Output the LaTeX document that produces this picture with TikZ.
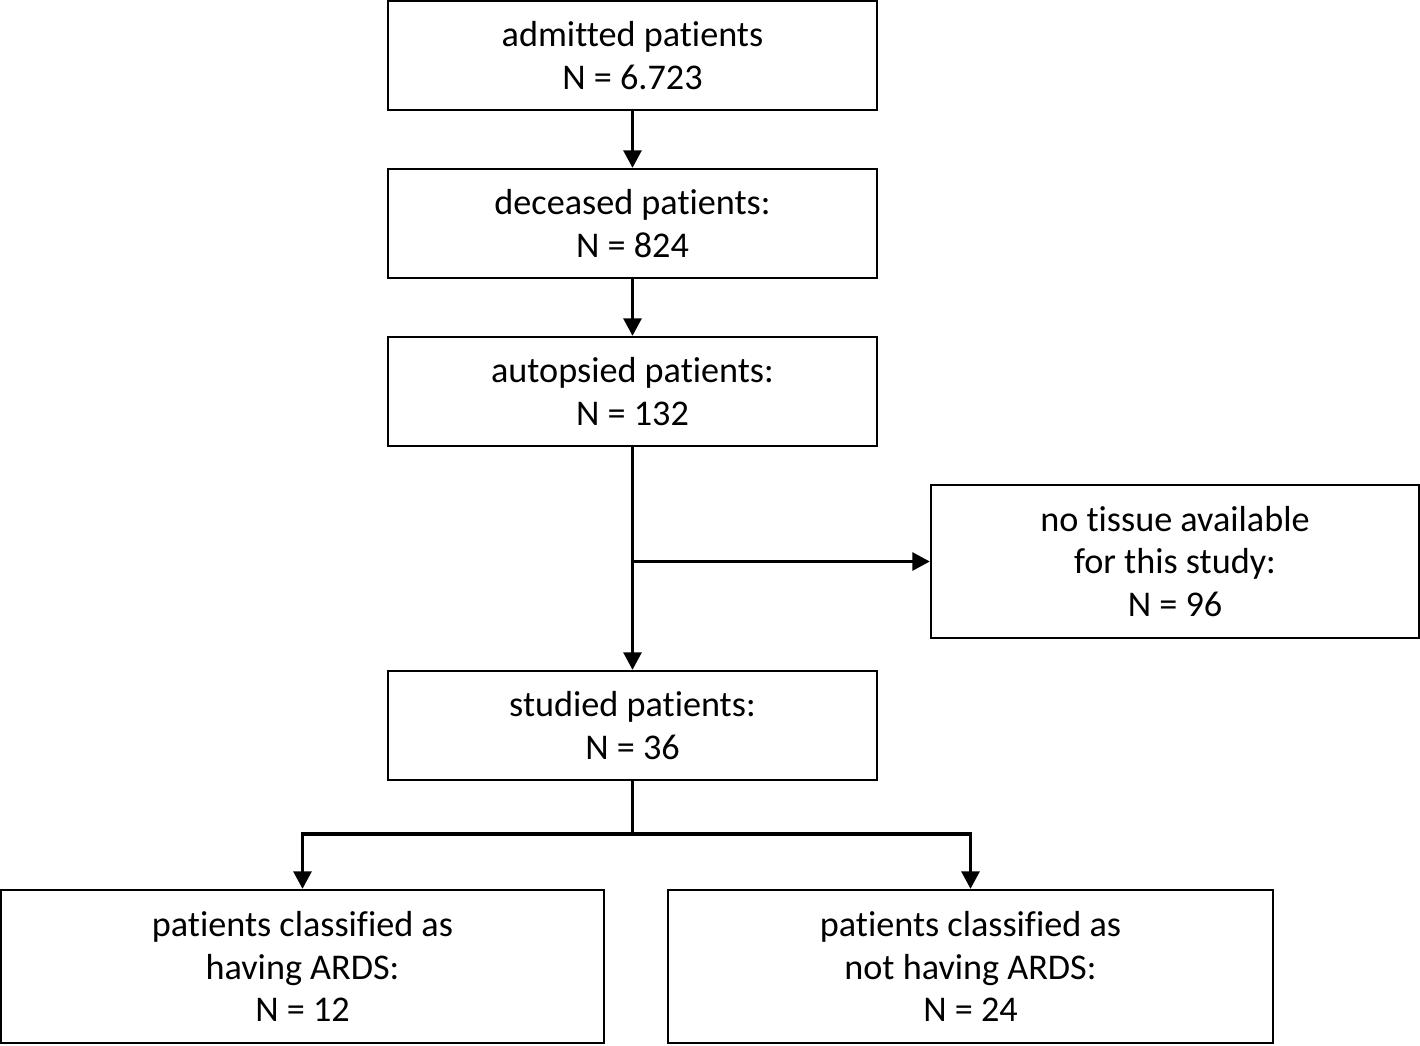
\documentclass[tikz,border=0pt]{standalone}
\usepackage{fontspec}
\setmainfont[Ligatures=NoCommon]{Carlito}
\usetikzlibrary{arrows.meta,calc}
\begin{document}
\begin{tikzpicture}[x=0.02cm,y=-0.02cm,
  box/.style={draw=black, line width=1.2pt, inner sep=0pt, align=center,
    font=\fontsize{20.6}{24}\selectfont},
  conn/.style={line width=2.2pt, -{Triangle[length=10pt,width=10pt]}},
  plain/.style={line width=2.2pt}]
\useasboundingbox (0,0) rectangle (1420,1045);
\node[box, minimum width=489*0.02cm, minimum height=109*0.02cm] (b1) at (632.5,55.5) {admitted patients\\N = 6.723};
\node[box, minimum width=489*0.02cm, minimum height=109*0.02cm] (b2) at (632.5,223.5) {deceased patients:\\N = 824};
\node[box, minimum width=489*0.02cm, minimum height=109*0.02cm] (b3) at (632.5,391.5) {autopsied patients:\\N = 132};
\node[box, minimum width=488*0.02cm, minimum height=153*0.02cm] (b4) at (1175,561.5) {no tissue available\\for this study:\\N = 96};
\node[box, minimum width=489*0.02cm, minimum height=109*0.02cm] (b5) at (632.5,725.5) {studied patients:\\N = 36};
\node[box, minimum width=603*0.02cm, minimum height=153*0.02cm] (b6) at (302.5,966.5) {patients classified as\\having ARDS:\\N = 12};
\node[box, minimum width=605*0.02cm, minimum height=153*0.02cm] (b7) at (970.5,966.5) {patients classified as\\not having ARDS:\\N = 24};
\draw[conn] (b1) -- (b2);
\draw[conn] (b2) -- (b3);
\draw[conn] (b3) -- (b5);
\coordinate (m) at (b3.south |- b4.west);
\draw[conn] (m) -- (b4.west);
\coordinate (j) at ($(b5.south)+(0,53)$);
\draw[plain] (b5.south) -- (j);
\draw[conn] ([xshift=1.1pt]j) -| (b6.north);
\draw[conn] ([xshift=-1.1pt]j) -| (b7.north);
\end{tikzpicture}
\end{document}
